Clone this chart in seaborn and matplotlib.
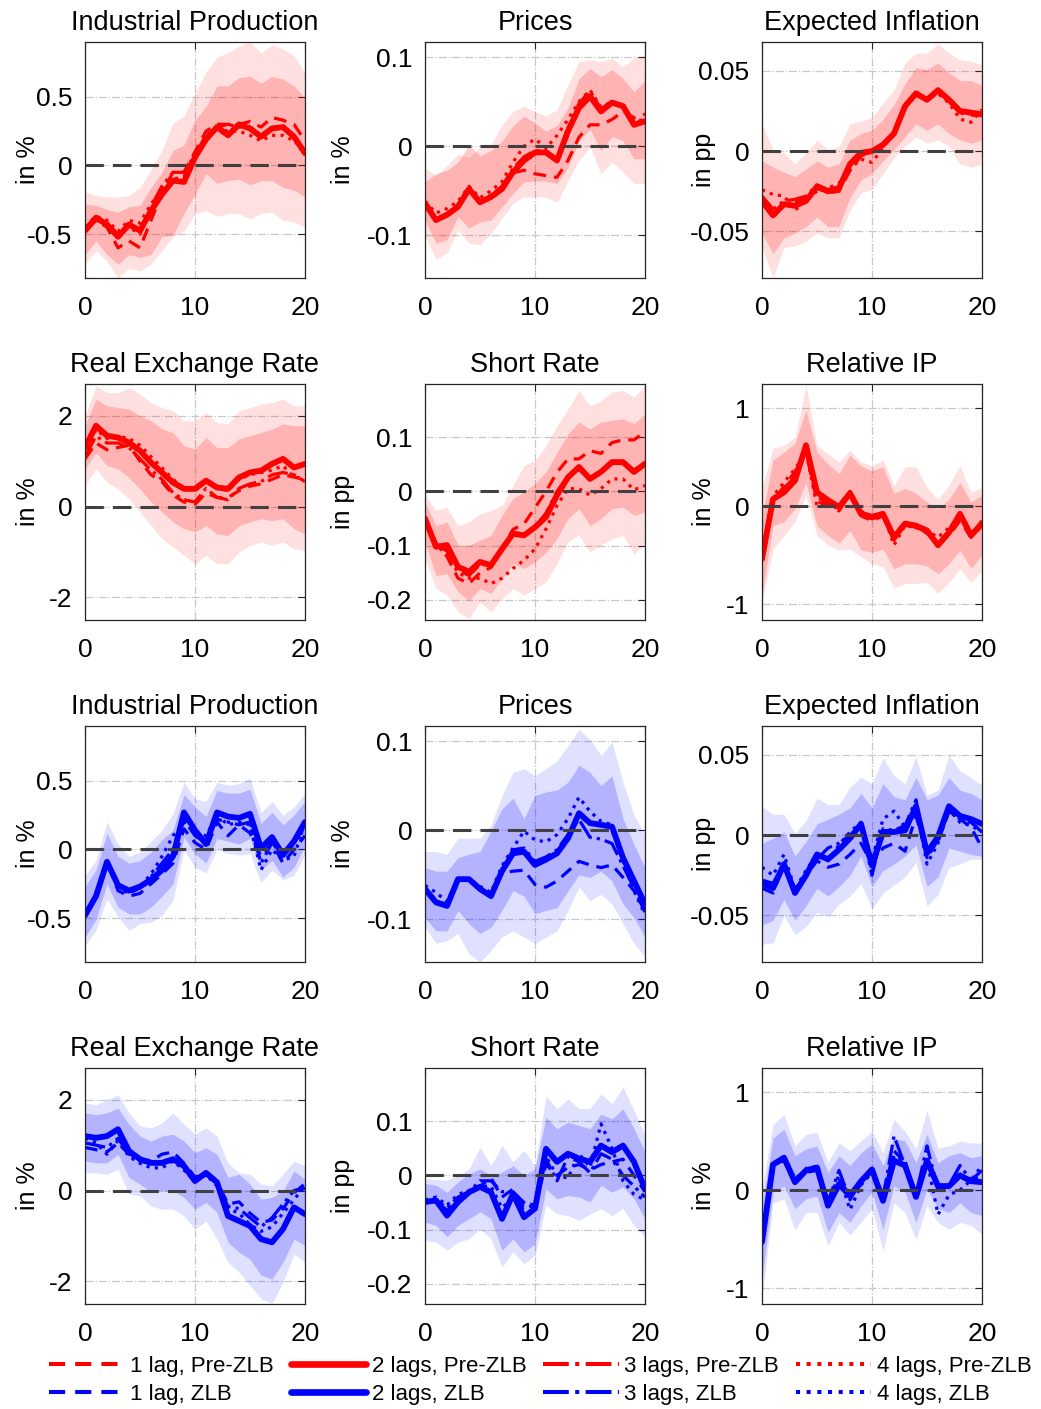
import matplotlib
matplotlib.use("Agg")
import matplotlib.pyplot as plt
import seaborn as sns
from matplotlib.lines import Line2D

sns.set_style("white")
plt.rcParams['font.family'] = ['Liberation Sans', 'DejaVu Sans']
plt.rcParams['axes.unicode_minus'] = False
plt.rcParams['text.color'] = 'black'
plt.rcParams['axes.labelcolor'] = 'black'

horizon = list(range(21))

# ---- Pre-ZLB (red) ----
ip_pre_l1 = [-0.45,-0.40,-0.45,-0.60,-0.55,-0.60,-0.40,-0.20,-0.05,-0.05,0.10,0.25,0.30,0.30,0.30,0.32,0.28,0.35,0.33,0.30,0.18]
ip_pre_l2 = [-0.475,-0.38,-0.43,-0.52,-0.43,-0.475,-0.33,-0.21,-0.11,-0.12,0.06,0.19,0.28,0.22,0.30,0.27,0.21,0.27,0.28,0.21,0.09]
ip_pre_l3 = [-0.48,-0.40,-0.42,-0.50,-0.45,-0.50,-0.30,-0.15,-0.05,-0.05,0.08,0.22,0.28,0.30,0.28,0.28,0.22,0.27,0.27,0.20,0.08]
ip_pre_l4 = [-0.45,-0.37,-0.40,-0.48,-0.40,-0.42,-0.28,-0.18,-0.10,-0.08,0.05,0.20,0.27,0.25,0.25,0.22,0.18,0.22,0.22,0.18,0.10]
ip_pre_lo68 = [-0.65,-0.55,-0.65,-0.72,-0.65,-0.67,-0.65,-0.52,-0.51,-0.35,-0.21,-0.06,-0.13,-0.11,-0.10,-0.14,-0.11,-0.11,-0.16,-0.18,-0.23]
ip_pre_hi68 = [-0.28,-0.29,-0.32,-0.34,-0.30,-0.29,-0.16,-0.05,0.11,0.15,0.33,0.43,0.58,0.58,0.64,0.65,0.60,0.65,0.63,0.58,0.49]
ip_pre_lo90 = [-0.72,-0.62,-0.70,-0.82,-0.75,-0.77,-0.72,-0.62,-0.52,-0.48,-0.35,-0.33,-0.37,-0.35,-0.35,-0.39,-0.35,-0.34,-0.40,-0.41,-0.45]
ip_pre_hi90 = [-0.19,-0.22,-0.23,-0.23,-0.22,-0.16,-0.03,0.11,0.31,0.36,0.53,0.68,0.79,0.82,0.87,0.90,0.82,0.88,0.85,0.80,0.68]

pr_pre_l1 = [-0.065,-0.082,-0.076,-0.066,-0.050,-0.062,-0.058,-0.050,-0.030,-0.027,-0.031,-0.033,-0.035,-0.016,0.010,0.024,0.024,0.030,0.039,0.032,0.036]
pr_pre_l2 = [-0.064,-0.083,-0.077,-0.068,-0.048,-0.063,-0.057,-0.048,-0.029,-0.016,-0.007,-0.007,-0.016,0.017,0.043,0.056,0.039,0.049,0.045,0.024,0.028]
pr_pre_l3 = [-0.064,-0.082,-0.076,-0.066,-0.047,-0.062,-0.055,-0.045,-0.025,-0.012,-0.005,-0.005,-0.014,0.020,0.048,0.062,0.042,0.050,0.045,0.025,0.030]
pr_pre_l4 = [-0.062,-0.075,-0.070,-0.062,-0.045,-0.058,-0.050,-0.040,-0.018,0.000,0.008,-0.002,0.012,0.030,0.050,0.063,0.044,0.050,0.045,0.028,0.030]
pr_pre_lo68 = [-0.083,-0.109,-0.105,-0.079,-0.092,-0.085,-0.083,-0.068,-0.053,-0.040,-0.039,-0.039,-0.042,-0.024,0.006,0.019,-0.005,0.011,0.006,-0.014,-0.014]
pr_pre_hi68 = [-0.040,-0.031,-0.027,-0.018,0.002,-0.011,-0.005,0.006,0.023,0.034,0.026,0.017,0.023,0.043,0.076,0.087,0.078,0.086,0.076,0.061,0.074]
pr_pre_lo90 = [-0.101,-0.127,-0.120,-0.094,-0.109,-0.111,-0.098,-0.081,-0.064,-0.057,-0.057,-0.057,-0.063,-0.039,-0.016,-0.001,-0.031,-0.018,-0.029,-0.042,-0.042]
pr_pre_hi90 = [-0.024,-0.033,-0.022,-0.009,-0.013,-0.001,0.002,0.024,0.039,0.045,0.039,0.034,0.041,0.069,0.095,0.097,0.095,0.099,0.089,0.099,0.102]

ei_pre_l1 = [-0.030,-0.038,-0.033,-0.032,-0.029,-0.023,-0.026,-0.025,-0.012,-0.003,0.000,0.004,0.011,0.028,0.036,0.032,0.038,0.031,0.024,0.022,0.024]
ei_pre_l2 = [-0.031,-0.040,-0.033,-0.034,-0.031,-0.022,-0.025,-0.023,-0.008,-0.001,0.000,0.004,0.011,0.028,0.036,0.032,0.038,0.032,0.025,0.024,0.023]
ei_pre_l3 = [-0.028,-0.036,-0.031,-0.030,-0.028,-0.021,-0.024,-0.022,-0.009,-0.003,0.000,0.004,0.011,0.028,0.035,0.032,0.037,0.031,0.025,0.023,0.022]
ei_pre_l4 = [-0.024,-0.027,-0.028,-0.037,-0.030,-0.025,-0.023,-0.020,-0.011,-0.005,-0.007,0.002,0.012,0.027,0.035,0.032,0.036,0.030,0.020,0.018,0.026]
ei_pre_lo68 = [-0.051,-0.064,-0.054,-0.051,-0.047,-0.041,-0.047,-0.047,-0.029,-0.018,-0.014,-0.006,0.001,0.009,0.017,0.013,0.017,0.011,0.007,0.005,0.007]
ei_pre_hi68 = [-0.006,-0.010,-0.013,-0.016,-0.011,-0.006,-0.010,-0.008,0.007,0.011,0.013,0.020,0.029,0.042,0.052,0.051,0.055,0.049,0.044,0.044,0.041]
ei_pre_lo90 = [-0.060,-0.079,-0.060,-0.059,-0.056,-0.051,-0.054,-0.054,-0.037,-0.026,-0.024,-0.014,-0.004,0.003,0.009,0.005,0.007,0.003,-0.008,-0.010,-0.008]
ei_pre_hi90 = [0.017,0.001,-0.001,-0.008,-0.001,0.007,0.001,0.003,0.017,0.019,0.021,0.030,0.038,0.055,0.061,0.061,0.067,0.061,0.057,0.056,0.054]

rer_pre_l1 = [1.05,1.40,1.25,1.30,1.35,1.00,0.70,0.55,0.25,0.10,0.05,0.30,0.20,0.20,0.35,0.45,0.50,0.60,0.70,0.65,0.60]
rer_pre_l2 = [1.30,1.78,1.56,1.52,1.41,1.23,0.97,0.75,0.53,0.39,0.39,0.57,0.42,0.39,0.64,0.75,0.79,0.94,1.05,0.86,0.94]
rer_pre_l3 = [1.10,1.55,1.40,1.40,1.30,1.05,0.80,0.60,0.30,0.15,0.10,0.40,0.20,0.15,0.40,0.50,0.55,0.70,0.75,0.70,0.55]
rer_pre_l4 = [1.10,1.70,1.50,1.55,1.50,1.35,1.10,0.85,0.60,0.40,0.35,0.55,0.40,0.35,0.60,0.70,0.75,0.80,0.90,0.65,0.60]
rer_pre_lo68 = [0.83,1.19,0.90,0.83,0.64,0.39,0.10,-0.12,-0.34,-0.49,-0.56,-0.42,-0.60,-0.64,-0.42,-0.34,-0.27,-0.31,-0.27,-0.49,-0.60]
rer_pre_hi68 = [1.78,2.37,2.22,2.18,2.15,2.00,1.89,1.71,1.63,1.34,1.27,1.52,1.30,1.30,1.49,1.56,1.63,1.71,1.82,1.78,1.78]
rer_pre_lo90 = [0.46,0.83,0.53,0.39,0.17,-0.12,-0.42,-0.71,-0.89,-1.08,-1.26,-1.08,-1.26,-1.26,-1.00,-0.86,-0.78,-0.86,-0.78,-0.93,-0.97]
rer_pre_hi90 = [2.00,2.66,2.51,2.51,2.62,2.48,2.29,2.18,2.11,1.89,1.89,2.07,1.85,1.82,2.11,2.18,2.26,2.29,2.37,2.22,2.22]

sr_pre_l1 = [-0.050,-0.095,-0.120,-0.160,-0.170,-0.150,-0.140,-0.105,-0.070,-0.060,-0.030,0.000,0.035,0.060,0.060,0.075,0.070,0.090,0.095,0.095,0.110]
sr_pre_l2 = [-0.050,-0.102,-0.099,-0.139,-0.148,-0.130,-0.136,-0.106,-0.078,-0.081,-0.066,-0.047,-0.007,0.026,0.045,0.023,0.036,0.054,0.054,0.036,0.051]
sr_pre_l3 = [-0.050,-0.098,-0.110,-0.145,-0.155,-0.135,-0.135,-0.105,-0.075,-0.080,-0.065,-0.040,0.000,0.028,0.040,0.025,0.036,0.052,0.055,0.040,0.050]
sr_pre_l4 = [-0.050,-0.100,-0.115,-0.150,-0.160,-0.160,-0.170,-0.160,-0.142,-0.127,-0.106,-0.069,-0.026,0.005,0.005,-0.007,0.005,0.023,0.023,0.003,0.011]
sr_pre_lo68 = [-0.093,-0.155,-0.152,-0.185,-0.201,-0.179,-0.188,-0.161,-0.133,-0.142,-0.130,-0.112,-0.087,-0.050,-0.032,-0.063,-0.050,-0.032,-0.029,-0.044,-0.038]
sr_pre_hi68 = [-0.020,-0.063,-0.056,-0.099,-0.099,-0.090,-0.081,-0.044,-0.013,-0.001,0.014,0.036,0.072,0.106,0.128,0.115,0.128,0.131,0.134,0.125,0.143]
sr_pre_lo90 = [-0.124,-0.179,-0.191,-0.222,-0.234,-0.204,-0.222,-0.198,-0.179,-0.191,-0.179,-0.167,-0.133,-0.093,-0.081,-0.112,-0.099,-0.087,-0.081,-0.115,-0.096]
sr_pre_hi90 = [-0.007,-0.035,-0.029,-0.063,-0.056,-0.041,-0.035,-0.026,0.011,0.048,0.057,0.085,0.121,0.152,0.186,0.158,0.167,0.183,0.186,0.174,0.195]

rip_pre_l1 = [-0.50,0.05,0.20,0.35,0.55,0.05,0.00,-0.05,0.12,-0.10,-0.15,-0.10,-0.30,-0.20,-0.20,-0.28,-0.38,-0.30,-0.15,-0.32,-0.20]
rip_pre_l2 = [-0.54,0.07,0.14,0.26,0.62,0.14,0.06,-0.01,0.13,-0.08,-0.11,-0.08,-0.32,-0.18,-0.20,-0.25,-0.40,-0.27,-0.08,-0.30,-0.18]
rip_pre_l3 = [-0.50,0.08,0.18,0.30,0.58,0.10,0.02,-0.03,0.12,-0.10,-0.13,-0.10,-0.35,-0.18,-0.22,-0.25,-0.40,-0.25,-0.10,-0.30,-0.15]
rip_pre_l4 = [-0.45,0.10,0.24,0.38,0.55,0.00,0.02,0.00,0.15,-0.05,-0.13,-0.08,-0.40,-0.20,-0.22,-0.25,-0.32,-0.22,-0.12,-0.28,-0.20]
rip_pre_lo68 = [-0.91,-0.20,-0.16,-0.03,0.24,-0.20,-0.30,-0.38,-0.25,-0.45,-0.47,-0.44,-0.64,-0.59,-0.59,-0.61,-0.69,-0.59,-0.45,-0.64,-0.50]
rip_pre_hi68 = [-0.10,0.47,0.55,0.64,0.98,0.55,0.43,0.33,0.52,0.41,0.36,0.40,0.13,0.18,0.13,0.04,-0.03,0.07,0.24,0.04,0.11]
rip_pre_lo90 = [-0.98,-0.44,-0.30,-0.16,0.11,-0.30,-0.40,-0.45,-0.44,-0.52,-0.59,-0.62,-0.84,-0.79,-0.79,-0.78,-0.89,-0.78,-0.64,-0.78,-0.66]
rip_pre_hi90 = [0.18,0.59,0.62,0.70,1.23,0.62,0.53,0.45,0.57,0.45,0.41,0.47,0.21,0.40,0.40,0.19,0.07,0.21,0.41,0.14,0.19]

# ---- ZLB (blue) ----
ip_zlb_l1 = [-0.48,-0.34,-0.09,-0.30,-0.34,-0.32,-0.25,-0.18,-0.10,0.15,0.05,0.00,0.20,0.10,0.18,0.12,-0.05,0.05,-0.10,0.00,0.10]
ip_zlb_l2 = [-0.48,-0.34,-0.09,-0.26,-0.30,-0.27,-0.22,-0.15,-0.05,0.27,0.14,0.04,0.27,0.24,0.23,0.26,0.01,0.09,-0.04,0.06,0.20]
ip_zlb_l3 = [-0.48,-0.34,-0.09,-0.28,-0.32,-0.28,-0.20,-0.10,0.00,0.22,0.10,0.05,0.22,0.20,0.18,0.20,-0.10,0.05,-0.05,0.05,0.15]
ip_zlb_l4 = [-0.48,-0.34,-0.09,-0.27,-0.30,-0.27,-0.18,-0.05,0.10,0.20,0.12,0.10,0.25,0.18,0.20,0.18,-0.15,0.00,-0.08,-0.05,0.20]
ip_zlb_lo68 = [-0.64,-0.51,-0.25,-0.42,-0.47,-0.47,-0.42,-0.34,-0.25,0.09,-0.03,-0.10,0.08,0.06,0.04,0.08,-0.15,-0.08,-0.20,-0.13,0.03]
ip_zlb_hi68 = [-0.27,-0.15,0.12,-0.05,-0.10,-0.08,-0.02,0.07,0.14,0.40,0.31,0.24,0.43,0.41,0.41,0.44,0.19,0.27,0.18,0.25,0.35]
ip_zlb_lo90 = [-0.70,-0.59,-0.36,-0.49,-0.59,-0.54,-0.53,-0.48,-0.37,0.00,-0.13,-0.17,0.00,-0.03,-0.04,-0.03,-0.24,-0.15,-0.22,-0.19,-0.04]
ip_zlb_hi90 = [-0.19,-0.08,0.20,0.04,-0.05,-0.02,0.06,0.14,0.26,0.49,0.37,0.35,0.49,0.47,0.48,0.52,0.27,0.35,0.25,0.31,0.41]

pr_zlb_l1 = [-0.066,-0.080,-0.083,-0.055,-0.056,-0.066,-0.072,-0.048,-0.046,-0.045,-0.061,-0.064,-0.057,-0.046,-0.035,-0.039,-0.042,-0.039,-0.053,-0.068,-0.090]
pr_zlb_l2 = [-0.066,-0.081,-0.085,-0.055,-0.055,-0.066,-0.074,-0.046,-0.026,-0.024,-0.039,-0.033,-0.026,-0.009,0.019,0.008,0.006,0.004,-0.031,-0.057,-0.083]
pr_zlb_l3 = [-0.066,-0.080,-0.083,-0.055,-0.055,-0.065,-0.073,-0.045,-0.022,-0.020,-0.035,-0.030,-0.022,-0.005,0.012,-0.008,-0.010,-0.015,-0.040,-0.065,-0.092]
pr_zlb_l4 = [-0.062,-0.070,-0.080,-0.055,-0.055,-0.063,-0.070,-0.040,-0.020,-0.001,-0.011,-0.013,-0.005,0.013,0.037,0.021,0.010,0.006,-0.035,-0.068,-0.095]
pr_zlb_lo68 = [-0.098,-0.113,-0.113,-0.090,-0.105,-0.116,-0.109,-0.090,-0.068,-0.074,-0.094,-0.090,-0.087,-0.068,-0.050,-0.053,-0.046,-0.057,-0.083,-0.098,-0.120]
pr_zlb_hi68 = [-0.042,-0.046,-0.046,-0.031,-0.027,-0.024,-0.001,0.024,0.036,0.013,0.039,0.043,0.045,0.054,0.073,0.065,0.050,0.061,0.013,-0.016,-0.042]
pr_zlb_lo90 = [-0.109,-0.127,-0.124,-0.116,-0.139,-0.148,-0.135,-0.120,-0.113,-0.120,-0.127,-0.120,-0.113,-0.090,-0.064,-0.079,-0.072,-0.083,-0.105,-0.127,-0.142]
pr_zlb_hi90 = [-0.024,-0.024,-0.027,-0.009,-0.009,-0.009,0.006,0.039,0.065,0.069,0.061,0.069,0.078,0.095,0.113,0.102,0.084,0.099,0.054,0.017,-0.005]

ei_zlb_l1 = [-0.033,-0.036,-0.018,-0.036,-0.025,-0.016,-0.020,-0.018,-0.012,-0.005,-0.018,-0.008,-0.005,-0.010,0.012,-0.012,-0.004,0.015,0.010,0.005,-0.008]
ei_zlb_l2 = [-0.030,-0.033,-0.018,-0.036,-0.025,-0.012,-0.015,-0.009,-0.002,0.007,-0.019,0.002,0.002,0.003,0.018,-0.011,-0.001,0.018,0.012,0.010,0.007]
ei_zlb_l3 = [-0.028,-0.030,-0.018,-0.035,-0.024,-0.015,-0.008,-0.005,0.000,0.006,-0.025,0.004,0.003,0.006,0.022,-0.014,-0.003,0.015,0.010,0.008,0.002]
ei_zlb_l4 = [-0.020,-0.025,-0.012,-0.034,-0.022,-0.012,-0.016,-0.006,0.002,0.008,-0.015,0.010,0.015,0.005,0.018,-0.018,-0.005,0.016,0.008,0.006,0.002]
ei_zlb_lo68 = [-0.056,-0.053,-0.040,-0.053,-0.044,-0.033,-0.038,-0.032,-0.025,-0.013,-0.032,-0.022,-0.018,-0.013,-0.006,-0.032,-0.026,-0.008,-0.010,-0.012,-0.013]
ei_zlb_hi68 = [-0.005,-0.002,0.002,-0.013,-0.004,0.007,0.010,0.013,0.017,0.026,0.017,0.032,0.024,0.022,0.036,0.022,0.025,0.036,0.028,0.026,0.022]
ei_zlb_lo90 = [-0.068,-0.067,-0.050,-0.062,-0.057,-0.048,-0.051,-0.043,-0.038,-0.030,-0.046,-0.036,-0.031,-0.026,-0.017,-0.044,-0.037,-0.020,-0.018,-0.015,-0.015]
ei_zlb_hi90 = [0.018,0.013,0.013,0.001,0.009,0.023,0.019,0.019,0.030,0.036,0.032,0.048,0.037,0.032,0.049,0.025,0.028,0.050,0.040,0.036,0.031]

rer_zlb_l1 = [0.95,0.90,0.85,1.05,0.80,0.70,0.65,0.80,0.85,0.60,0.30,0.35,0.20,-0.30,-0.25,-0.50,-0.70,-0.65,-0.40,-0.05,0.15]
rer_zlb_l2 = [1.20,1.16,1.20,1.35,0.87,0.69,0.61,0.61,0.69,0.54,0.21,0.39,0.18,-0.56,-0.67,-0.78,-1.07,-1.14,-0.85,-0.37,-0.52]
rer_zlb_l3 = [1.05,1.00,0.95,1.15,0.80,0.65,0.60,0.62,0.70,0.55,0.25,0.40,0.15,-0.35,-0.40,-0.60,-0.80,-0.60,-0.30,0.00,0.05]
rer_zlb_l4 = [1.15,1.05,0.80,1.10,0.75,0.60,0.50,0.50,0.65,0.45,0.20,0.35,0.10,-0.40,-0.50,-0.75,-0.90,-0.80,-0.50,-0.20,0.10]
rer_zlb_lo68 = [0.65,0.61,0.61,0.80,0.29,0.14,-0.04,-0.01,-0.01,-0.15,-0.41,-0.26,-0.48,-1.14,-1.36,-1.51,-1.87,-1.95,-1.58,-1.07,-1.21]
rer_zlb_hi68 = [1.71,1.67,1.71,1.82,1.46,1.20,1.09,1.20,1.24,1.09,0.83,0.94,0.80,0.29,0.36,0.14,-0.19,-0.15,-0.01,0.43,0.25]
rer_zlb_lo90 = [0.39,0.39,0.36,0.47,-0.08,-0.12,-0.34,-0.41,-0.41,-0.56,-0.85,-0.67,-1.07,-1.58,-1.80,-2.09,-2.38,-2.49,-2.02,-1.40,-1.58]
rer_zlb_hi90 = [1.93,1.89,2.00,2.11,1.71,1.42,1.38,1.49,1.71,1.46,1.24,1.38,1.20,0.61,0.39,0.36,0.14,0.10,0.36,0.65,0.54]

sr_zlb_l1 = [-0.050,-0.045,-0.065,-0.045,-0.030,-0.020,-0.005,-0.040,-0.025,-0.060,-0.055,0.020,0.000,0.015,0.020,0.010,0.020,0.025,0.030,0.000,-0.030]
sr_zlb_l2 = [-0.049,-0.046,-0.074,-0.049,-0.031,-0.021,-0.031,-0.080,-0.034,-0.077,-0.061,0.049,0.025,0.040,0.031,0.025,0.055,0.043,0.055,0.025,-0.025]
sr_zlb_l3 = [-0.048,-0.045,-0.060,-0.040,-0.030,-0.010,-0.010,-0.030,-0.030,-0.050,-0.055,0.030,-0.010,0.035,0.025,0.005,0.040,0.030,0.000,-0.020,-0.040]
sr_zlb_l4 = [-0.045,-0.040,-0.055,-0.035,-0.028,-0.020,-0.020,-0.060,-0.040,-0.060,-0.055,0.035,0.000,-0.005,0.040,0.015,0.095,0.050,-0.010,-0.035,-0.045]
sr_zlb_lo68 = [-0.086,-0.092,-0.113,-0.092,-0.080,-0.067,-0.080,-0.138,-0.117,-0.141,-0.126,-0.025,-0.043,-0.037,-0.040,-0.049,-0.018,-0.031,-0.021,-0.043,-0.080]
sr_zlb_hi68 = [-0.015,-0.018,-0.031,-0.012,0.003,0.012,0.000,0.006,0.018,0.000,0.012,0.107,0.086,0.098,0.092,0.086,0.113,0.104,0.123,0.086,0.043]
sr_zlb_lo90 = [-0.120,-0.123,-0.138,-0.123,-0.117,-0.098,-0.117,-0.169,-0.141,-0.163,-0.147,-0.055,-0.071,-0.074,-0.083,-0.071,-0.061,-0.074,-0.061,-0.092,-0.113]
sr_zlb_hi90 = [-0.006,-0.008,-0.009,0.000,0.012,0.052,0.018,0.055,0.025,0.046,0.018,0.147,0.123,0.141,0.123,0.123,0.150,0.132,0.163,0.120,0.074]

rip_zlb_l1 = [-0.50,0.25,0.30,0.10,0.18,0.20,-0.10,0.10,-0.05,0.05,0.20,-0.05,0.40,0.28,-0.05,0.30,0.05,0.05,0.15,0.10,0.15]
rip_zlb_l2 = [-0.53,0.26,0.33,0.08,0.20,0.23,-0.16,0.06,-0.06,0.09,0.21,-0.11,0.30,0.25,-0.07,0.30,0.04,0.04,0.15,0.09,0.08]
rip_zlb_l3 = [-0.50,0.25,0.32,0.10,0.22,0.22,-0.12,0.20,-0.10,0.10,0.20,-0.08,0.55,0.25,-0.05,0.45,0.00,0.05,0.25,0.10,0.20]
rip_zlb_l4 = [-0.48,0.24,0.32,0.12,0.20,0.25,-0.12,0.15,-0.20,0.05,0.18,-0.08,0.35,0.30,-0.10,0.30,-0.25,-0.05,0.00,0.10,0.25]
rip_zlb_lo68 = [-0.90,-0.02,0.04,-0.19,-0.09,-0.06,-0.43,-0.23,-0.33,-0.16,-0.02,-0.40,0.04,-0.02,-0.33,0.01,-0.19,-0.23,-0.13,-0.23,-0.26]
rip_zlb_hi68 = [-0.16,0.53,0.62,0.35,0.42,0.45,0.18,0.35,0.25,0.38,0.47,0.25,0.53,0.50,0.28,0.57,0.28,0.35,0.38,0.33,0.35]
rip_zlb_lo90 = [-1.11,-0.13,-0.09,-0.41,-0.23,-0.23,-0.57,-0.33,-0.46,-0.33,-0.19,-0.62,-0.13,-0.23,-0.50,-0.16,-0.33,-0.40,-0.33,-0.36,-0.45]
rip_zlb_hi90 = [0.01,0.67,0.77,0.45,0.57,0.59,0.28,0.48,0.40,0.50,0.60,0.38,0.72,0.60,0.42,0.81,0.43,0.45,0.50,0.48,0.48]

titles = ["Industrial Production", "Prices", "Expected Inflation",
          "Real Exchange Rate", "Short Rate", "Relative IP"]
units = ["in %", "in %", "in pp", "in %", "in pp", "in %"]
yticks = [[-0.5, 0, 0.5], [-0.1, 0, 0.1], [-0.05, 0, 0.05],
          [-2, 0, 2], [-0.2, -0.1, 0, 0.1], [-1, 0, 1]]
ylims = [(-0.82, 0.90), (-0.148, 0.117), (-0.079, 0.068),
         (-2.5, 2.7), (-0.237, 0.198), (-1.163, 1.245)]

pre = [
    (ip_pre_l1, ip_pre_l2, ip_pre_l3, ip_pre_l4, ip_pre_lo68, ip_pre_hi68, ip_pre_lo90, ip_pre_hi90),
    (pr_pre_l1, pr_pre_l2, pr_pre_l3, pr_pre_l4, pr_pre_lo68, pr_pre_hi68, pr_pre_lo90, pr_pre_hi90),
    (ei_pre_l1, ei_pre_l2, ei_pre_l3, ei_pre_l4, ei_pre_lo68, ei_pre_hi68, ei_pre_lo90, ei_pre_hi90),
    (rer_pre_l1, rer_pre_l2, rer_pre_l3, rer_pre_l4, rer_pre_lo68, rer_pre_hi68, rer_pre_lo90, rer_pre_hi90),
    (sr_pre_l1, sr_pre_l2, sr_pre_l3, sr_pre_l4, sr_pre_lo68, sr_pre_hi68, sr_pre_lo90, sr_pre_hi90),
    (rip_pre_l1, rip_pre_l2, rip_pre_l3, rip_pre_l4, rip_pre_lo68, rip_pre_hi68, rip_pre_lo90, rip_pre_hi90),
]
zlb = [
    (ip_zlb_l1, ip_zlb_l2, ip_zlb_l3, ip_zlb_l4, ip_zlb_lo68, ip_zlb_hi68, ip_zlb_lo90, ip_zlb_hi90),
    (pr_zlb_l1, pr_zlb_l2, pr_zlb_l3, pr_zlb_l4, pr_zlb_lo68, pr_zlb_hi68, pr_zlb_lo90, pr_zlb_hi90),
    (ei_zlb_l1, ei_zlb_l2, ei_zlb_l3, ei_zlb_l4, ei_zlb_lo68, ei_zlb_hi68, ei_zlb_lo90, ei_zlb_hi90),
    (rer_zlb_l1, rer_zlb_l2, rer_zlb_l3, rer_zlb_l4, rer_zlb_lo68, rer_zlb_hi68, rer_zlb_lo90, rer_zlb_hi90),
    (sr_zlb_l1, sr_zlb_l2, sr_zlb_l3, sr_zlb_l4, sr_zlb_lo68, sr_zlb_hi68, sr_zlb_lo90, sr_zlb_hi90),
    (rip_zlb_l1, rip_zlb_l2, rip_zlb_l3, rip_zlb_l4, rip_zlb_lo68, rip_zlb_hi68, rip_zlb_lo90, rip_zlb_hi90),
]

styles = [(0, (4, 2.5)), '-', '-.', ':']
widths = [2.3, 4.2, 2.3, 2.3]
axcol = '#262626'

fig = plt.figure(figsize=(10.41, 14.09), dpi=100)
W, H = 1041, 1409
lefts = [85, 425, 762]
tops = [42, 384, 726, 1068]
label_x = [-0.205, -0.32, -0.21]

for block, (series, color) in enumerate([(pre, 'red'), (zlb, 'blue')]):
    for k in range(6):
        row = block * 2 + k // 3
        col = k % 3
        ax = fig.add_axes([lefts[col] / W, 1 - (tops[row] + 236) / H, 220 / W, 236 / H])
        l1, l2, l3, l4, lo68, hi68, lo90, hi90 = series[k]
        ax.fill_between(horizon, lo90, hi90, color=color, alpha=0.12, linewidth=0)
        ax.fill_between(horizon, lo68, hi68, color=color, alpha=0.2, linewidth=0)
        for vals, ls, lw in zip([l1, l2, l3, l4], styles, widths):
            sns.lineplot(x=horizon, y=vals, ax=ax, color=color, linestyle=ls, linewidth=lw)
        ax.axhline(0, color='#404040', linewidth=2.2, linestyle=(0, (6, 3)), zorder=5)
        ax.set_xlim(0, 20)
        ax.set_ylim(*ylims[k])
        ax.set_xticks([0, 10, 20])
        ax.set_yticks(yticks[k])
        ax.set_yticklabels([f"{v:g}" for v in yticks[k]])
        ax.grid(True, color='#c8c8c8', linestyle='-.', linewidth=0.9)
        ax.set_axisbelow(True)
        ax.tick_params(direction='in', top=True, right=True, length=5, width=0.8,
                       labelsize=19, colors=axcol, labelcolor='black')
        ax.tick_params(axis='x', pad=13)
        ax.tick_params(axis='y', pad=9)
        for sp in ax.spines.values():
            sp.set_color(axcol)
            sp.set_linewidth(0.9)
        ax.set_title(titles[k], fontsize=19.5, pad=9, color='black')
        ax.set_ylabel(units[k], fontsize=18)
        ax.yaxis.set_label_coords(label_x[col], 0.5)
        ax.set_xlabel("")

handles = []
labels = []
for j in range(4):
    for color, tag in [('red', 'Pre-ZLB'), ('blue', 'ZLB')]:
        handles.append(Line2D([], [], color=color, linestyle=styles[j], linewidth=widths[j] + 0.6))
        labels.append(f"{j + 1} lag{'s' if j else ''}, {tag}")

fig.legend(handles, labels, ncol=4, loc='lower center', bbox_to_anchor=(0.519, -0.002),
           frameon=False, fontsize=16, handlelength=3.4, handletextpad=0.25,
           columnspacing=0.75, labelspacing=0.33, borderpad=0.2, borderaxespad=0.1)

fig.savefig("out.png", dpi=100)
